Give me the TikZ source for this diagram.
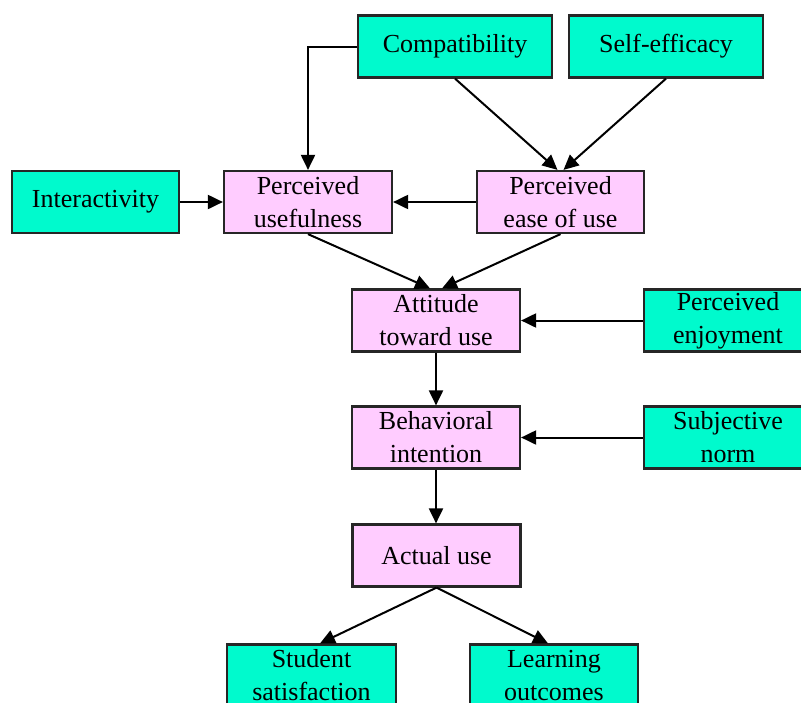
\documentclass[tikz,border=0pt]{standalone}
\usepackage{fontspec}
\setmainfont{Liberation Serif}
\usetikzlibrary{arrows.meta}
\definecolor{teal1}{RGB}{0,250,205}
\definecolor{pink1}{RGB}{255,204,255}
\begin{document}
\begin{tikzpicture}[x=1pt,y=-1pt,
  box/.style={draw=black!85,line width=2.2pt,minimum height=62pt,inner sep=0pt,align=center,
    font=\fontsize{26}{33}\selectfont},
  ext/.style={box,fill=teal1},
  core/.style={box,fill=pink1},
  arr/.style={line width=2pt,-{Triangle[length=15pt,width=14pt]}}]
\useasboundingbox (0,0) rectangle (801,702);
\fill[white] (0,0) rectangle (801,702);
\clip (0,0) rectangle (801,702);
\node[ext,minimum width=194pt] (compat) at (455,46.5) {Compatibility};
\node[ext,minimum width=194pt] (self) at (666,46.5) {Self-efficacy};
\node[ext,minimum width=167pt] (inter) at (95.5,202) {Interactivity};
\node[core,minimum width=168pt] (pu) at (308,202) {Perceived\\usefulness};
\node[core,minimum width=167pt] (peou) at (560.5,202) {Perceived\\ease of use};
\node[core,minimum width=168pt] (atu) at (436,320.5) {Attitude\\toward use};
\node[ext,minimum width=168pt] (pe) at (728,320.5) {Perceived\\enjoyment};
\node[core,minimum width=168pt] (bi) at (436,437.5) {Behavioral\\intention};
\node[ext,minimum width=168pt] (sn) at (728,437.5) {Subjective\\norm};
\node[core,minimum width=168pt] (au) at (436.5,555.5) {Actual use};
\node[ext,minimum width=169pt] (ss) at (311.5,675.5) {Student\\satisfaction};
\node[ext,minimum width=168pt] (lo) at (554,675.5) {Learning\\outcomes};
\draw[arr] (compat.west) -| (pu.north);
\draw[arr] (compat.south) -- ([xshift=-3pt]peou.north);
\draw[arr] (self.south) -- ([xshift=3pt]peou.north);
\draw[arr] (peou.west) -- (pu.east);
\draw[arr] (inter.east) -- (pu.west);
\draw[arr] (pu.south) -- ([xshift=-6pt]atu.north);
\draw[arr] (peou.south) -- ([xshift=6pt]atu.north);
\draw[arr] (pe.west) -- (atu.east);
\draw[arr] (atu.south) -- (bi.north);
\draw[arr] (sn.west) -- (bi.east);
\draw[arr] (bi.south) -- (bi.south |- au.north);
\draw[arr] (au.south) -- ([xshift=8.5pt]ss.north);
\draw[arr] (au.south) -- ([xshift=-6pt]lo.north);
\end{tikzpicture}
\end{document}
